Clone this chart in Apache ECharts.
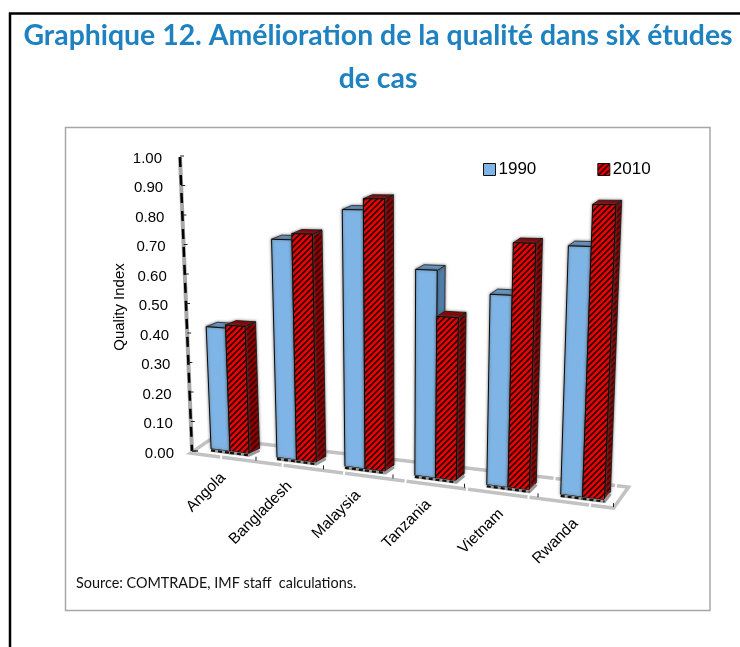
<!DOCTYPE html>
<html><head><meta charset="utf-8">
<style>html,body{margin:0;padding:0;background:#fff}#c{width:740px;height:647px}</style>
<script src="https://cdn.jsdelivr.net/npm/echarts@6/dist/echarts.min.js"></script>
</head><body><div id="c"></div>
<script>
const categories = ['Angola','Bangladesh','Malaysia','Tanzania','Vietnam','Rwanda'];
const values1990 = [0.41,0.71,0.81,0.63,0.565,0.715];
const values2010 = [0.42,0.73,0.845,0.49,0.72,0.835];
const tickValues = [0,0.1,0.2,0.3,0.4,0.5,0.6,0.7,0.8,0.9,1];
const tickLabels = ['0.00','0.10','0.20','0.30','0.40','0.50','0.60','0.70','0.80','0.90','1.00'];

const GL = 197.25, SLOT = 65.5, GB = 452, GH = 295;
const BAR = 0.29;

function hatch(bg, line){
  const s = 6, c = document.createElement('canvas');
  c.width = s; c.height = s;
  const g = c.getContext('2d');
  g.fillStyle = bg; g.fillRect(0,0,s,s);
  g.strokeStyle = line; g.lineWidth = 1.7;
  for (let k=-s;k<=2*s;k+=s){ g.beginPath(); g.moveTo(k-1,s+1); g.lineTo(k+s+1,-1); g.stroke(); }
  return {image:c, repeat:'repeat'};
}
const redFace = hatch('#f00000','#2a0000');
const redSide = hatch('#900000','#3a0000');

// perspective applied to the grid's pixel coordinates
function project(p){
  const gx = p[0], rise = GB - p[1];
  const d = gx - (GL + SLOT*0.5);
  const x0 = gx + d*d/(SLOT*SLOT);
  const yBase = 449 + (x0-212)*0.13;
  const H = 1 + 0.00048*(x0-190);
  return [x0 + (x0-395)*0.065*rise/GH, yBase - rise*H];
}
function depthVec(pt, v){
  const dx = 11 - (pt[0]-200)*0.0125;
  const dy = -3.5 - (1-v)*(1.5 + (pt[0]-200)*0.008);
  return [dx, dy];
}
function back(pt, v){ const d = depthVec(pt, v); return [pt[0]+d[0], pt[1]+d[1]]; }

function barRender(faceFill, sideFill, topFill, u0, u1, edge){
  return function(params, api){
    const i = api.value(0), v = api.value(1);
    const bl = project(api.coord([i+u0,0])), br = project(api.coord([i+u1,0]));
    const tl = project(api.coord([i+u0,v])), tr = project(api.coord([i+u1,v]));
    const tlb = back(tl,v), trb = back(tr,v), brb = back(br,0);
    const sh = {shadowColor:'rgba(80,80,80,0.75)', shadowBlur:3};
    return {type:'group', children:[
      {type:'polygon', shape:{points:[tr,trb,brb,br]}, style:Object.assign({fill:sideFill, stroke:edge, lineWidth:0.8}, sh)},
      {type:'polygon', shape:{points:[tl,tlb,trb,tr]}, style:Object.assign({fill:topFill, stroke:edge, lineWidth:0.8}, sh)},
      {type:'polygon', shape:{points:[tl,tr,br,bl]}, style:Object.assign({fill:faceFill, stroke:'#0a0a0a', lineWidth:1}, sh)},
      {type:'polyline', shape:{points:[[bl[0],bl[1]+1.5],[br[0],br[1]+1.5],[brb[0],brb[1]+2]]}, style:{fill:'none', stroke:'#9a9a9a', lineWidth:3}},
      {type:'polyline', shape:{points:[[bl[0],bl[1]+1.5],[br[0],br[1]+1.5]]}, style:{fill:'none', stroke:'#111', lineWidth:2.2, lineDash:[4,3]}}
    ]};
  };
}

const option = {
  animation:false,
  backgroundColor:'#fff',
  title:{
    text:'Graphique 12. Amélioration de la qualité dans six études\nde cas',
    left:373, top:9, textAlign:'center',
    textStyle:{fontFamily:'Lato', fontWeight:'bold', fontSize:28.4, lineHeight:43, color:'#1F82C0'}
  },
  legend:{
    left:478, top:156, orient:'horizontal', icon:'rect', itemWidth:12, itemHeight:12, itemGap:61,
    selectedMode:false,
    textStyle:{fontFamily:'Liberation Sans', fontSize:17, color:'#000', padding:[0,0,0,-2]},
    data:[
      {name:'1990', itemStyle:{color:'#7FB5E6', borderColor:'#111', borderWidth:1}},
      {name:'2010', itemStyle:{color:redFace, borderColor:'#111', borderWidth:1}}
    ]
  },
  grid:{left:GL, top:GB-GH, width:SLOT*6, height:GH},
  xAxis:{type:'value', min:0, max:6, show:false},
  yAxis:{type:'value', min:0, max:1, interval:0.1, show:false},
  graphic:[
    {type:'polyline', shape:{points:[[10,647],[10,13.5],[740,13.5]]}, style:{fill:'none', stroke:'#000', lineWidth:2.5}, z:0},
    {type:'rect', shape:{x:65.5,y:127.5,width:644.5,height:483}, style:{fill:'#fff', stroke:'#a6a6a6', lineWidth:1.5}, z:0},
    {type:'text', x:120, y:307, rotation:Math.PI/2, style:{text:'Quality Index', fontFamily:'Liberation Sans', fontSize:15, fill:'#000', align:'center', verticalAlign:'middle'}, z:5},
    {type:'text', x:76, y:583, style:{text:'Source: COMTRADE, IMF staff  calculations.', fontFamily:'Lato', fontSize:14.4, fill:'#111', verticalAlign:'middle'}, z:5}
  ],
  series:[
    { // floor of the plot
      type:'custom', name:'floor', coordinateSystem:'cartesian2d', silent:true, z:2,
      data:[[0,0]],
      renderItem:function(params, api){
        const a = project(api.coord([0,0])), b = project(api.coord([6,0]));
        const fl=[a[0]-7,a[1]+6], fr=[b[0]-7,b[1]+6], bl=[a[0]+15,a[1]-9], br=[b[0]+8,b[1]-15];
        return {type:'polygon', shape:{points:[fl,bl,br,fr]}, style:{fill:'#fff', stroke:'#c2c2c2', lineWidth:3.5, lineDash:[60,2]}};
      }
    },
    { // floor ticks and category labels
      type:'custom', name:'categories', coordinateSystem:'cartesian2d', silent:true, z:3,
      data:categories.map((c,i)=>[i,0]),
      renderItem:function(params, api){
        const i = api.value(0);
        const t = project(api.coord([i+1,0]));
        const c = project(api.coord([i+0.5,0]));
        return {type:'group', children:[
          {type:'line', shape:{x1:t[0]-7,y1:t[1]+1,x2:t[0]-7,y2:t[1]+5}, style:{stroke:'#222', lineWidth:1}},
          {type:'text', x:c[0]-7, y:c[1]+24, rotation:Math.PI/4, style:{text:categories[i], fontFamily:'Liberation Sans', fontSize:15.5, fill:'#000', align:'right', verticalAlign:'middle'}}
        ]};
      }
    },
    { // slanted value axis with its labels
      type:'custom', name:'axis', coordinateSystem:'cartesian2d', silent:true, z:3,
      data:tickValues.map((v,i)=>[i,v]),
      renderItem:function(params, api){
        const i = api.value(0), v = api.value(1);
        const p = api.coord([0,v]), top = api.coord([0,1]), bot = api.coord([0,0]);
        const ax = w => 192 - 12*w;
        const kids = [
          {type:'line', shape:{x1:ax(v),y1:p[1]-1,x2:ax(v)+4,y2:p[1]-1}, style:{stroke:'#222', lineWidth:1}},
          {type:'text', x:ax(v)-18, y:p[1]+1.5, style:{text:tickLabels[i], fontFamily:'Liberation Sans', fontSize:15, fill:'#000', align:'right', verticalAlign:'middle'}}
        ];
        if (i===0){
          kids.push({type:'line', shape:{x1:ax(1),y1:top[1],x2:ax(0),y2:bot[1]-1}, style:{stroke:'#a8a8a8', lineWidth:4}});
          kids.push({type:'line', shape:{x1:ax(1),y1:top[1],x2:ax(0),y2:bot[1]-1}, style:{stroke:'#000', lineWidth:2.5, lineDash:[10,8]}});
          kids.push({type:'line', shape:{x1:ax(0),y1:bot[1]-1,x2:ax(0)+6,y2:bot[1]-1}, style:{stroke:'#333', lineWidth:1.5}});
        }
        return {type:'group', children:kids};
      }
    },
    {
      type:'custom', name:'1990', coordinateSystem:'cartesian2d', silent:true, z:4,
      itemStyle:{color:'#7FB5E6'},
      data:values1990.map((v,i)=>[i,v]),
      renderItem:barRender('#7FB5E6','#4F7FAE','#6A9CCB',0.5-BAR,0.5,'#222')
    },
    {
      type:'custom', name:'2010', coordinateSystem:'cartesian2d', silent:true, z:5,
      itemStyle:{color:'#ee0000'},
      data:values2010.map((v,i)=>[i,v]),
      renderItem:barRender(redFace,redSide,'#8c0000',0.5,0.5+BAR,'#111')
    }
  ]
};
echarts.init(document.getElementById('c'),null,{renderer:'canvas'}).setOption(option);
</script></body></html>
